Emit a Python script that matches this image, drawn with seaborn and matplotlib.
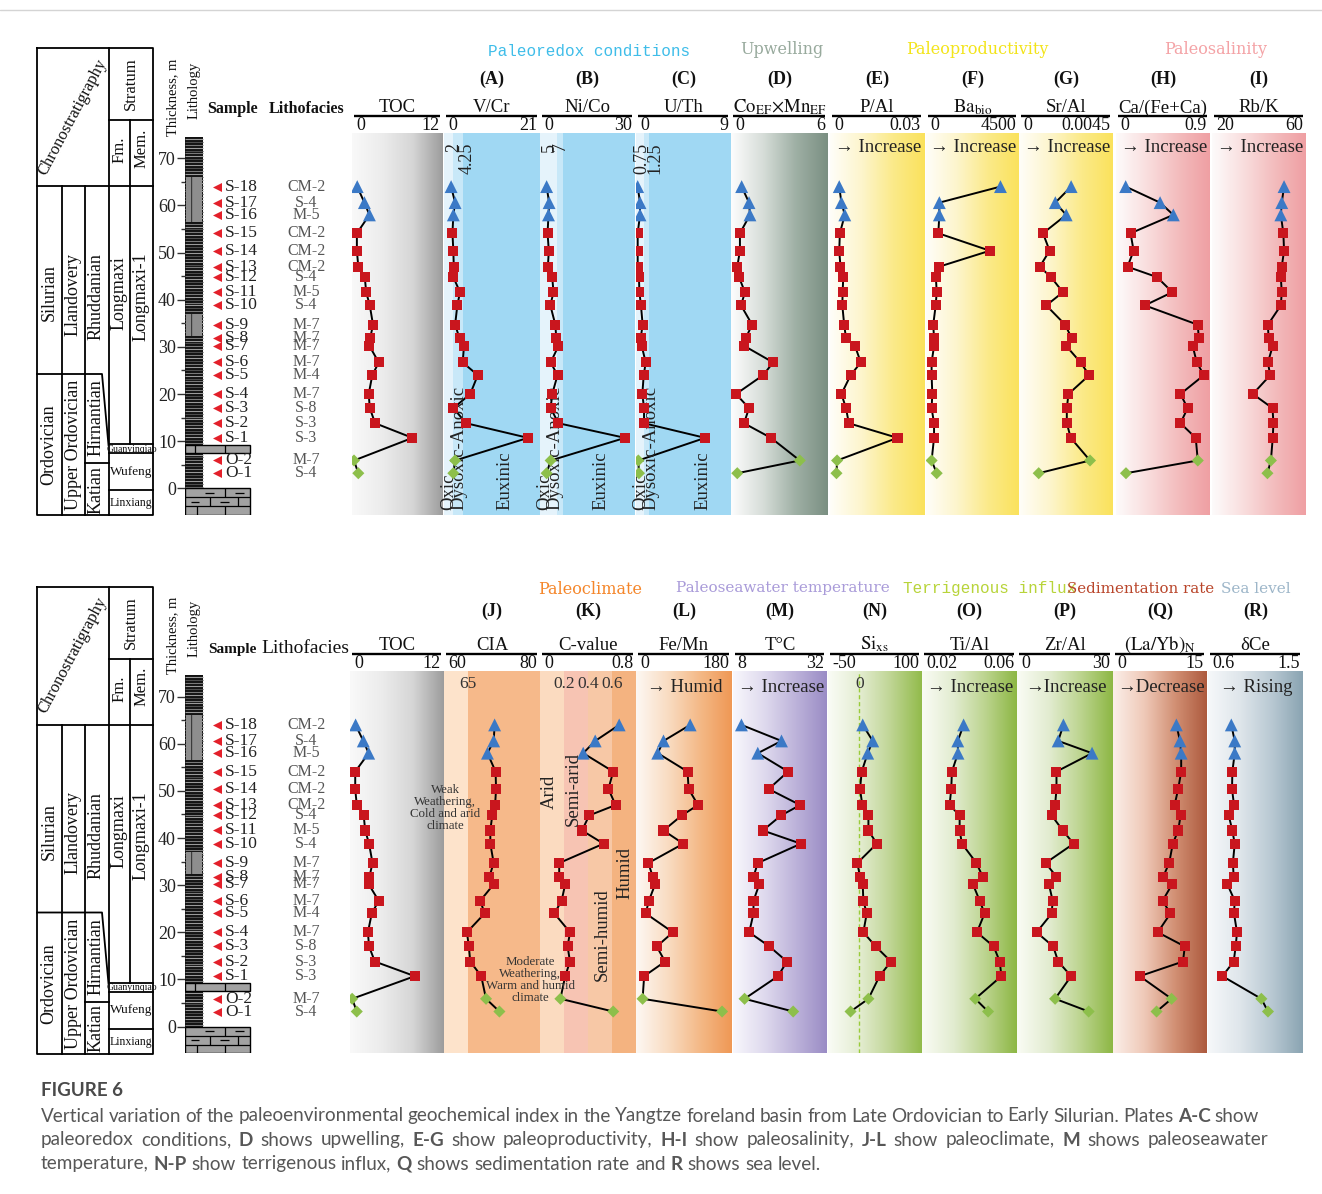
import numpy as np
import pandas as pd
import matplotlib
matplotlib.use("Agg")
import matplotlib.pyplot as plt
import seaborn as sns
from matplotlib.colors import LinearSegmentedColormap
from matplotlib.patches import Rectangle

sns.set_theme(style="white")
SERIF = ["Liberation Serif", "DejaVu Serif"]
plt.rcParams["font.family"] = SERIF
plt.rcParams["mathtext.fontset"] = "stix"
plt.rcParams["hatch.linewidth"] = 0.7

W, H = 1322, 1194
fig = plt.figure(figsize=(W / 100, H / 100), dpi=100)
fig.patch.set_facecolor("white")

# ---------------- samples ----------------
samples = ["S-18", "S-17", "S-16", "S-15", "S-14", "S-13", "S-12", "S-11", "S-10", "S-9",
           "S-8", "S-7", "S-6", "S-5", "S-4", "S-3", "S-2", "S-1", "O-2", "O-1"]
lithofacies = ["CM-2", "S-4", "M-5", "CM-2", "CM-2", "CM-2", "S-4", "M-5", "S-4", "M-7",
               "M-7", "M-7", "M-7", "M-4", "M-7", "S-8", "S-3", "S-3", "M-7", "S-4"]
thickness = [64.0, 60.6, 58.0, 54.1, 50.4, 47.0, 44.8, 41.6, 38.8, 34.7,
             31.8, 30.2, 26.7, 24.0, 20.0, 17.0, 13.8, 10.7, 5.9, 3.2]
unit = ["upper"] * 3 + ["lower"] * 15 + ["basal"] * 2

# ---------------- geochemical indices ----------------
toc = [0.5, 1.5, 2.2, 0.45, 0.45, 0.65, 1.55, 1.75, 2.25, 2.7, 2.3, 2.2, 3.5, 2.6, 2.1, 2.25, 3.0, 8.2, 0.05, 0.65]
v_cr = [1.5, 2.4, 2.0, 1.8, 2.0, 2.1, 2.0, 3.5, 2.9, 2.4, 3.4, 4.4, 4.1, 7.5, 5.8, 2.0, 4.9, 18.8, 2.4, 2.0]
ni_co = [1.8, 2.6, 2.4, 2.1, 2.5, 2.2, 3.6, 4.0, 3.0, 4.6, 4.9, 5.6, 3.1, 5.3, 3.6, 3.1, 5.6, 27.0, 3.1, 1.8]
u_th = [0.16, 0.38, 0.38, 0.16, 0.16, 0.16, 0.28, 0.32, 0.47, 0.63, 0.44, 0.54, 0.92, 0.73, 0.6, 0.76, 0.76, 6.55, 0.22, 0.28]
co_mn = [0.53, 1.0, 1.06, 0.42, 0.42, 0.25, 0.36, 0.74, 0.49, 1.2, 0.78, 0.7, 2.54, 1.9, 0.17, 1.0, 0.68, 2.4, 4.24, 0.25]
p_al = [0.0025, 0.0032, 0.0043, 0.0027, 0.0025, 0.0029, 0.0038, 0.0036, 0.0035, 0.0041,
        0.0047, 0.0076, 0.0095, 0.0062, 0.0032, 0.0047, 0.0056, 0.0214, 0.0018, 0.0016]
ba_bio = [3590, 590, 590, 540, 3070, 570, 420, 460, 410, 290, 330, 330, 210, 210, 245, 210, 330, 330, 210, 460]
sr_al = [0.00246, 0.00169, 0.00222, 0.00109, 0.00141, 0.00093, 0.00148, 0.00206, 0.00125, 0.00217,
         0.00249, 0.00222, 0.00292, 0.00334, 0.00233, 0.00225, 0.00225, 0.00244, 0.00338, 0.00088]
ca_feca = [0.072, 0.41, 0.54, 0.12, 0.15, 0.09, 0.38, 0.53, 0.26, 0.78,
           0.79, 0.73, 0.77, 0.84, 0.61, 0.68, 0.61, 0.76, 0.78, 0.075]
rb_k = [50.9, 49.9, 49.5, 50.6, 50.9, 49.9, 49.5, 49.9, 49.5, 43.9,
        44.2, 46.0, 43.9, 44.9, 37.4, 45.9, 46.3, 46.0, 45.2, 43.7]
cia = [70.5, 70.3, 69.0, 70.7, 70.8, 70.6, 70.0, 69.6, 69.6, 70.3,
       69.4, 70.3, 67.5, 68.4, 64.7, 65.1, 65.4, 67.7, 68.7, 71.5]
c_value = [0.66, 0.46, 0.36, 0.61, 0.57, 0.63, 0.41, 0.35, 0.53, 0.16,
           0.16, 0.21, 0.18, 0.12, 0.25, 0.23, 0.25, 0.21, 0.17, 0.61]
fe_mn = [101, 50, 39, 96, 98, 116, 85, 50, 88, 21, 29.5, 34, 22, 16, 68, 37, 53, 13, 10, 162]
temp_c = [10.0, 20.3, 14.2, 22.0, 17.0, 25.1, 20.2, 15.5, 25.3, 14.2,
          13.1, 14.6, 13.1, 13.1, 12.0, 17.2, 21.7, 19.4, 10.8, 23.3]
si_xs = [5.4, 21.4, 13.4, 3.8, 1.1, 4.8, 14.5, 14.5, 27.9, -3.2,
         1.1, 5.4, 6.4, 11.8, 6.4, 26.2, 50.4, 32.2, 14.5, -14.0]
ti_al = [0.0374, 0.0349, 0.0350, 0.0324, 0.0321, 0.0314, 0.0357, 0.0357, 0.0367, 0.0429,
         0.0456, 0.0414, 0.0443, 0.0464, 0.0431, 0.0503, 0.0529, 0.0536, 0.0424, 0.0479]
zr_al = [14.2, 12.5, 23.5, 11.95, 11.95, 11.5, 10.4, 14.0, 17.5, 8.4,
         11.95, 9.5, 10.7, 10.4, 5.5, 10.9, 12.5, 16.7, 11.5, 22.4]
la_yb = [10.0, 10.6, 10.8, 10.8, 10.3, 9.7, 10.7, 10.3, 9.4, 8.8,
         7.8, 9.3, 7.7, 9.0, 6.9, 11.4, 11.1, 3.9, 9.2, 6.7]
delta_ce = [0.815, 0.848, 0.848, 0.825, 0.822, 0.841, 0.79, 0.825, 0.848, 0.83,
            0.838, 0.777, 0.848, 0.841, 0.87, 0.857, 0.838, 0.729, 1.105, 1.169]

# ---------------- page geometry (pixels) ----------------
PX_PER_M = 4.714
ROW_ZERO = [488.3, 1026.6]
ROW_SPAN = [(133, 515), (671, 1053)]


def add_px_axes(x0, y0, x1, y1, **kw):
    return fig.add_axes([x0 / W, 1 - y1 / H, (x1 - x0) / W, (y1 - y0) / H], **kw)


def depth_lim(row):
    yt, yb = ROW_SPAN[row]
    z = ROW_ZERO[row]
    return ((z - yb) / PX_PER_M, (z - yt) / PX_PER_M)


PAL = {"upper": "#3b79c6", "lower": "#c9161e", "basal": "#8dbf4b"}
MK = {"upper": "^", "lower": "s", "basal": "D"}
SZ = {"upper": 86, "lower": 52, "basal": 38}

GRAY = ["#f9f9f9", "#ececec", "#d6d6d6", "#9c9c9c"]
UPW = ["#fdfdfd", "#d6ddd8", "#9fb0a5", "#7a8f82"]
YEL = ["#fffef9", "#fdf5cc", "#fbea8a", "#fae25c"]
PINK = ["#fdfbfb", "#f9dede", "#f3bcbd", "#ef9fa3"]
ORNG = ["#fdf8f3", "#f9dcc2", "#f4b987", "#ef9855"]
PURP = ["#f8f7fc", "#dfdaee", "#bdb3da", "#9a8cc5"]
GRN1 = ["#fafcf6", "#e4edd2", "#bfd594", "#92bb4b"]
GRN2 = ["#fafcf5", "#e2ecd0", "#bcd48f", "#8db744"]
BRWN = ["#fbefe9", "#efc9b8", "#d18f73", "#ad5a3e"]
SLAT = ["#f6f8fa", "#dfe6eb", "#b9c9d3", "#8aa4b2"]


def redox(a, b, top):
    return [(-1e3, a, "#e5f3fb"), (a, b, "#c8e8f8"), (b, top * 2, "#a0d8f3")]


def draw_panel(row, x0, x1, spec):
    yt, yb = ROW_SPAN[row]
    ax = add_px_axes(x0, yt, x1, yb)
    ylim = depth_lim(row)
    xlim = spec["xlim"]
    if "grad" in spec:
        cmap = LinearSegmentedColormap.from_list("bg", spec["grad"])
        ax.imshow(np.linspace(0, 1, 256)[None, :], cmap=cmap, aspect="auto",
                  extent=(xlim[0], xlim[1], ylim[0], ylim[1]), zorder=0,
                  interpolation="bilinear")
    for a, b, c in spec.get("bands", []):
        ax.axvspan(a, b, color=c, lw=0, zorder=0)
    if spec.get("zero_line"):
        ax.axvline(0, color="#9acb3a", ls=(0, (3, 2)), lw=1.0, zorder=1)
    df = pd.DataFrame({"value": spec["vals"], "thickness": thickness, "unit": unit})
    sns.lineplot(data=df, x="value", y="thickness", sort=False, estimator=None,
                 color="black", lw=1.4, ax=ax, zorder=3)
    sns.scatterplot(data=df, x="value", y="thickness", hue="unit", style="unit",
                    size="unit", palette=PAL, markers=MK, sizes=SZ, linewidth=0,
                    legend=False, ax=ax, zorder=4)
    ax.set_xlim(xlim)
    ax.set_ylim(ylim)
    ax.axis("off")
    for txt, xv, yfrac in spec.get("marks", []):
        ax.text(xv, yfrac, txt, transform=ax.get_xaxis_transform(), rotation=90,
                ha="center", va="top", fontsize=13, color="#222")
    for txt, xv, yfrac in spec.get("marks_h", []):
        ax.text(xv, yfrac, txt, transform=ax.get_xaxis_transform(),
                ha="center", va="center", fontsize=12.5, color="#333")
    for txt, xf in spec.get("zones", []):
        ax.text(xf, 0.012, txt, transform=ax.transAxes, rotation=90,
                ha="center", va="bottom", fontsize=13.5, color="#222")
    return ax


# ---------------- panel definitions ----------------
top_cols = [(352, 443), (444, 540), (540, 635), (636, 731), (731, 828),
            (830, 924), (926, 1019), (1019, 1113), (1116, 1210), (1212, 1306)]
bot_cols = [(350, 444), (444, 540), (540, 636), (636, 732), (733, 827),
            (828, 922), (922, 1017), (1017, 1113), (1113, 1207), (1208, 1303)]

REDOX_ZONES = [("Oxic", 0.05), ("Dysoxic-Anoxic", 0.155), ("Euxinic", 0.64)]

top_specs = [
    dict(name="TOC", lo="0", hi="12", xlim=(-0.23, 12.46), vals=toc, grad=GRAY),
    dict(name="V/Cr", letter="(A)", lo="0", hi="21", xlim=(-0.1, 21.5), vals=v_cr,
         bands=redox(2, 4.25, 21.5), marks=[("2", 2, 0.975), ("4.25", 5.0, 0.975)],
         zones=REDOX_ZONES),
    dict(name="Ni/Co", letter="(B)", lo="0", hi="30", xlim=(-0.33, 30.2), vals=ni_co,
         bands=redox(5, 7, 30.2), marks=[("5", 2.8, 0.975), ("7", 6.2, 0.975)],
         zones=REDOX_ZONES),
    dict(name="U/Th", letter="(C)", lo="0", hi="9", xlim=(0, 9.0), vals=u_th,
         bands=redox(0.75, 1.25, 9.0), marks=[("0.75", 0.57, 0.975), ("1.25", 1.8, 0.975)],
         zones=[("Oxic", 0.05), ("Dysoxic-Anoxic", 0.155), ("Euxinic", 0.71)]),
    dict(name=r"$\mathrm{Co_{EF}{\times}Mn_{EF}}$", letter="(D)", lo="0", hi="6",
         xlim=(-0.15, 6.04), vals=co_mn, grad=UPW),
    dict(name="P/Al", letter="(E)", lo="0", hi="0.03", xlim=(-0.0005, 0.0300), vals=p_al,
         grad=YEL, arrow="→ Increase"),
    dict(name=r"$\mathrm{Ba_{bio}}$", letter="(F)", lo="0", hi="4500", xlim=(-65, 4500),
         vals=ba_bio, grad=YEL, arrow="→ Increase"),
    dict(name="Sr/Al", letter="(G)", lo="0", hi="0.0045", xlim=(-0.00008, 0.0045),
         vals=sr_al, grad=YEL, arrow="→ Increase"),
    dict(name="Ca/(Fe+Ca)", letter="(H)", lo="0", hi="0.9", xlim=(-0.023, 0.9),
         vals=ca_feca, grad=PINK, arrow="→ Increase"),
    dict(name="Rb/K", letter="(I)", lo="20", hi="60", xlim=(19.7, 60.4), vals=rb_k,
         grad=PINK, arrow="→ Increase"),
]

bot_specs = [
    dict(name="TOC", lo="0", hi="12", xlim=(-0.23, 12.0), vals=toc, grad=GRAY),
    dict(name="CIA", letter="(J)", lo="60", hi="80", xlim=(59.9, 80.0), vals=cia,
         bands=[(50, 65, "#fde3cb"), (65, 90, "#f6b98a")], marks_h=[("65", 65, 0.965)]),
    dict(name="C-value", letter="(K)", lo="0", hi="0.8", xlim=(0.0, 0.8), vals=c_value,
         bands=[(-1, 0.2, "#fbdbc0"), (0.2, 0.4, "#f7c4b3"), (0.4, 0.6, "#f7c8a6"),
                (0.6, 1.0, "#f4b380")],
         marks_h=[("0.2", 0.2, 0.965), ("0.4", 0.4, 0.965), ("0.6", 0.6, 0.965)]),
    dict(name="Fe/Mn", letter="(L)", lo="0", hi="180", xlim=(-2.6, 181), vals=fe_mn,
         grad=ORNG, arrow="→ Humid"),
    dict(name="T°C", letter="(M)", lo="8", hi="32", xlim=(7.83, 32.0), vals=temp_c,
         grad=PURP, arrow="→ Increase"),
    dict(name=r"$\mathrm{Si_{xs}}$", letter="(N)", lo="-50", hi="100", xlim=(-50, 100),
         vals=si_xs, grad=GRN1, zero_line=True, marks_h=[("0", 0, 0.965)]),
    dict(name="Ti/Al", letter="(O)", lo="0.02", hi="0.06", xlim=(0.01957, 0.06029),
         vals=ti_al, grad=GRN2, arrow="→ Increase"),
    dict(name="Zr/Al", letter="(P)", lo="0", hi="30", xlim=(-0.87, 30.3), vals=zr_al,
         grad=GRN2, arrow="→Increase"),
    dict(name=r"$\mathrm{(La/Yb)_N}$", letter="(Q)", lo="0", hi="15", xlim=(-0.56, 15.1),
         vals=la_yb, grad=BRWN, arrow="→Decrease"),
    dict(name="δCe", letter="(R)", lo="0.6", hi="1.5", xlim=(0.59, 1.507), vals=delta_ce,
         grad=SLAT, arrow="→ Rising"),
]

for (x0, x1), spec in zip(top_cols, top_specs):
    draw_panel(0, x0, x1, spec)
for (x0, x1), spec in zip(bot_cols, bot_specs):
    draw_panel(1, x0, x1, spec)


# ---------------- lithology column with thickness scale ----------------
def draw_lith(row):
    yt, yb = ROW_SPAN[row]
    ax = add_px_axes(185, yt, 252, yb)
    ax.set_xlim(185, 252)
    ax.set_ylim(depth_lim(row))
    ax.set_facecolor("none")
    for s in ax.spines.values():
        s.set_visible(False)
    top = 74.6
    ax.add_patch(Rectangle((185, 0), 18, top, facecolor="#111111", lw=0, zorder=1))
    for k, d in enumerate(np.arange(0.35, top, 0.62)):
        ax.hlines(d, 185, 203, color=["#7a7a7a", "#4d4d4d", "#9b9b9b"][k % 3], lw=0.8, zorder=2)
    for lo_d, hi_d in [(56.5, 66.0), (32.3, 37.0)]:
        ax.add_patch(Rectangle((186, lo_d), 16, hi_d - lo_d, facecolor="#8e8e8e",
                               edgecolor="#2a2a2a", hatch="|", lw=0, zorder=3))
    # Guanyinqiao limestone
    ax.add_patch(Rectangle((185, 7.49), 65, 1.7, facecolor="#a2a2a2", edgecolor="black", lw=1.0, zorder=4))
    ax.vlines([195, 225], 7.49, 9.19, color="black", lw=0.9, zorder=5)
    # Linxiang limestone
    ax.add_patch(Rectangle((185, -5.6), 65, 5.6, facecolor="#a2a2a2", edgecolor="black", lw=1.0, zorder=4))
    ax.hlines([-1.9, -3.8], 185, 250, color="black", lw=0.9, zorder=5)
    ax.vlines([225], -1.9, 0, color="black", lw=0.9, zorder=5)
    ax.vlines([210, 238], -3.8, -1.9, color="black", lw=0.9, zorder=5)
    ax.vlines([197, 225], -5.6, -3.8, color="black", lw=0.9, zorder=5)
    ax.hlines([-0.95, -0.95], [205, 235], [214, 244], color="black", lw=0.9, zorder=5)
    ax.hlines([-2.85, -2.85], [191, 220], [199, 229], color="black", lw=0.9, zorder=5)
    ax.set_xticks([])
    ax.set_yticks(range(0, 71, 10))
    ax.set_yticks(range(5, 70, 10), minor=True)
    ax.tick_params(axis="y", which="major", left=True, length=6, width=1.0, color="#333",
                   pad=0.5, labelsize=13, labelcolor="#222")
    ax.tick_params(axis="y", which="minor", left=True, length=3, width=1.0, color="#333")
    ax.tick_params(axis="x", bottom=False)


def draw_samples(row):
    yt, yb = ROW_SPAN[row]
    ax = add_px_axes(205, yt, 345, yb)
    ax.set_xlim(205, 345)
    ax.set_ylim(depth_lim(row))
    ax.axis("off")
    sns.scatterplot(x=np.full(len(thickness), 217.0), y=thickness, marker="<",
                    color="#e3202a", s=42, linewidth=0, ax=ax)
    for s, lf, d in zip(samples, lithofacies, thickness):
        ax.text(225, d, s, ha="left", va="center", fontsize=12.5, color="#222")
        ax.text(306, d, lf, ha="center", va="center", fontsize=11.5, color="#555")


for r in (0, 1):
    draw_lith(r)
    draw_samples(r)

# ---------------- overlay for headers, stratigraphy frame and caption ----------------
ov = fig.add_axes([0, 0, 1, 1], zorder=10)
ov.set_xlim(0, W)
ov.set_ylim(H, 0)
ov.axis("off")
ov.patch.set_alpha(0)

ov.plot([0, W], [10, 10], color="#d4d4d4", lw=1.0)


def seg(xs, ys, dy, lw=1.3):
    ov.plot(xs, [y + dy for y in ys], color="black", lw=lw, solid_capstyle="projecting")


def draw_strat(dy):
    seg([37, 153, 153, 37, 37], [48, 48, 515, 515, 48], dy)
    seg([37, 153], [186, 186], dy)
    seg([109, 109], [48, 515], dy)
    seg([109, 153], [120, 120], dy)
    seg([130, 130], [120, 444], dy)
    seg([62, 62], [186, 515], dy)
    seg([85, 85], [186, 515], dy)
    seg([37, 102, 108.5], [374, 374, 445], dy)
    seg([85, 109], [463, 463], dy)
    seg([109, 153], [444, 444], dy)
    seg([109, 153], [453, 453], dy)
    seg([109, 153], [490, 490], dy)
    rot = dict(rotation=90, ha="center", va="center", color="#111")
    ov.text(49, 293 + dy, "Silurian", fontsize=13, **rot)
    ov.text(49, 445 + dy, "Ordovician", fontsize=13, **rot)
    ov.text(73, 294 + dy, "Llandovery", fontsize=13, **rot)
    ov.text(73, 445 + dy, "Upper Ordovician", fontsize=13, **rot)
    ov.text(96, 297 + dy, "Rhuddanian", fontsize=13, **rot)
    ov.text(96, 418 + dy, "Hirnantian", fontsize=13, **rot)
    ov.text(96, 490 + dy, "Katian", fontsize=13, **rot)
    ov.text(119, 293 + dy, "Longmaxi", fontsize=13, **rot)
    ov.text(141, 297 + dy, "Longmaxi-1", fontsize=13, **rot)
    ov.text(131, 84 + dy, "Stratum", fontsize=12, **rot)
    ov.text(119.5, 150 + dy, "Fm.", fontsize=12, **rot)
    ov.text(142, 148 + dy, "Mem.", fontsize=12, **rot)
    ov.text(73, 117 + dy, "Chronostratigraphy", fontsize=12, rotation=62,
            ha="center", va="center", color="#111", rotation_mode="anchor")
    ov.text(172.5, 97 + dy, "Thickness, m", fontsize=10.5, **rot)
    ov.text(194, 90 + dy, "Lithology", fontsize=10.5, **rot)
    ov.text(132, 449 + dy, "Guanyinqiao", fontsize=7, ha="center", va="center", color="#111")
    ov.text(131, 472 + dy, "Wufeng", fontsize=9.5, ha="center", va="center", color="#111")
    ov.text(131, 503 + dy, "Linxiang", fontsize=8.6, ha="center", va="center", color="#111")


draw_strat(0)
draw_strat(538.5)

ov.text(232, 113, "Sample", fontsize=11.5, fontweight="bold", ha="center", va="baseline", color="#111")
ov.text(307, 113, "Lithofacies", fontsize=11.5, fontweight="bold", ha="center", va="baseline", color="#111")
ov.text(232, 653, "Sample", fontsize=11, fontweight="bold", ha="center", va="baseline", color="#111")
ov.text(305, 653, "Lithofacies", fontsize=14, ha="center", va="baseline", color="#111")


def header(row, x0, x1, spec):
    if row == 0:
        y_let, y_name, y_line, y_tick, y_arrow = 79, 112.5, 116, 125.5, 147
    else:
        y_let, y_name, y_line, y_tick, y_arrow = 611, 649.5, 653.5, 663.5, 687
    cx = (x0 + x1) / 2
    if spec.get("letter"):
        ov.text(cx, y_let, spec["letter"], ha="center", va="center", fontsize=13,
                fontweight="bold", color="#111")
    ov.text(cx, y_name, spec["name"], ha="center", va="baseline", fontsize=13.5, color="#111")
    ov.plot([x0 + 2, x1 - 3], [y_line, y_line], color="black", lw=1.7, solid_capstyle="butt")
    ov.text(x0 + 4, y_tick, spec["lo"], ha="left", va="center", fontsize=13, color="#111")
    ov.text(x1 - 3, y_tick, spec["hi"], ha="right", va="center", fontsize=13, color="#111")
    if spec.get("arrow"):
        ov.text(cx + 1, y_arrow, spec["arrow"], ha="center", va="center", fontsize=13.5, color="#222")


for (x0, x1), spec in zip(top_cols, top_specs):
    header(0, x0, x1, spec)
for (x0, x1), spec in zip(bot_cols, bot_specs):
    header(1, x0, x1, spec)

# group titles
ov.text(589, 52, "Paleoredox conditions", fontsize=11.5, family="Liberation Mono",
        color="#3fbde9", ha="center", va="center")
ov.text(782, 50, "Upwelling", fontsize=11.5, family="DejaVu Serif", color="#98aa9d",
        ha="center", va="center")
ov.text(977, 50, "Paleoproductivity", fontsize=11.5, family="DejaVu Serif", color="#f3e41a",
        ha="center", va="center")
ov.text(1216, 50, "Paleosalinity", fontsize=11.5, family="DejaVu Serif", color="#f4a3a6",
        ha="center", va="center")
ov.text(590, 589, "Paleoclimate", fontsize=11.5, family="DejaVu Serif", color="#f5862a",
        ha="center", va="center")
ov.text(783, 588, "Paleoseawater temperature", fontsize=11, family="DejaVu Serif",
        color="#a99bd9", ha="center", va="center")
ov.text(903, 588, "Terrigenous influx", fontsize=11.5, family="Liberation Mono",
        color="#b8d43a", ha="left", va="center")
ov.text(1067, 589, "Sedimentation rate", fontsize=10.8, family="DejaVu Serif",
        color="#b9452a", ha="left", va="center")
ov.text(1221, 589, "Sea level", fontsize=11, family="DejaVu Serif", color="#9db6c9",
        ha="left", va="center")

# climate annotations
ov.text(445, 808, "Weak\nWeathering,\nCold and arid\nclimate", fontsize=9.3, ha="center",
        va="center", linespacing=1.0, color="#333")
ov.text(530, 980, "Moderate\nWeathering,\nWarm and humid\nclimate", fontsize=9.3, ha="center",
        va="center", linespacing=1.0, color="#333")
ov.text(549, 792, "Arid", fontsize=13.5, rotation=90, ha="center", va="center", color="#222")
ov.text(573, 789, "Semi-arid", fontsize=13.5, rotation=90, ha="center", va="center", color="#222")
ov.text(602, 935, "Semi-humid", fontsize=13.5, rotation=90, ha="center", va="center", color="#222")
ov.text(625, 873, "Humid", fontsize=13.5, rotation=90, ha="center", va="center", color="#222")

# ---------------- caption ----------------
fig.canvas.draw()
renderer = fig.canvas.get_renderer()
CAP_FONT = ["Lato", "DejaVu Sans"]
CAP_SIZE = 13.6


def text_width(s, bold=False):
    t = ov.text(0, 0, s, fontsize=CAP_SIZE, family=CAP_FONT,
                fontweight="bold" if bold else "normal")
    w = t.get_window_extent(renderer).width
    t.remove()
    return w


def caption_line(y, line, x0, x1=None):
    words = []
    for tok in line.split(" "):
        bold = tok.startswith("**")
        words.append((tok.strip("*"), bold))
    widths = [text_width(w, b) for w, b in words]
    space = text_width("a a") - text_width("aa")
    gap = space if x1 is None else (x1 - x0 - sum(widths)) / (len(words) - 1)
    x = x0
    for (w, b), wd in zip(words, widths):
        ov.text(x, y + 5.5, w, fontsize=CAP_SIZE, family=CAP_FONT,
                fontweight="bold" if b else "normal", color="#575757",
                ha="left", va="baseline")
        x += wd + gap


ov.text(41, 1091, "FIGURE 6", fontsize=13.5, family=CAP_FONT, fontweight="bold",
        color="#4a4a4a", ha="left", va="center")
caption_line(1116, "Vertical variation of the paleoenvironmental geochemical index in the Yangtze "
             "foreland basin from Late Ordovician to Early Silurian. Plates **A-C** show", 41, 1259)
caption_line(1140, "paleoredox conditions, **D** shows upwelling, **E-G** show paleoproductivity, "
             "**H-I** show paleosalinity, **J-L** show paleoclimate, **M** shows paleoseawater", 41, 1268)
caption_line(1164, "temperature, **N-P** show terrigenous influx, **Q** shows sedimentation rate "
             "and **R** shows sea level.", 41)

fig.savefig("out.png", dpi=100, facecolor="white")
